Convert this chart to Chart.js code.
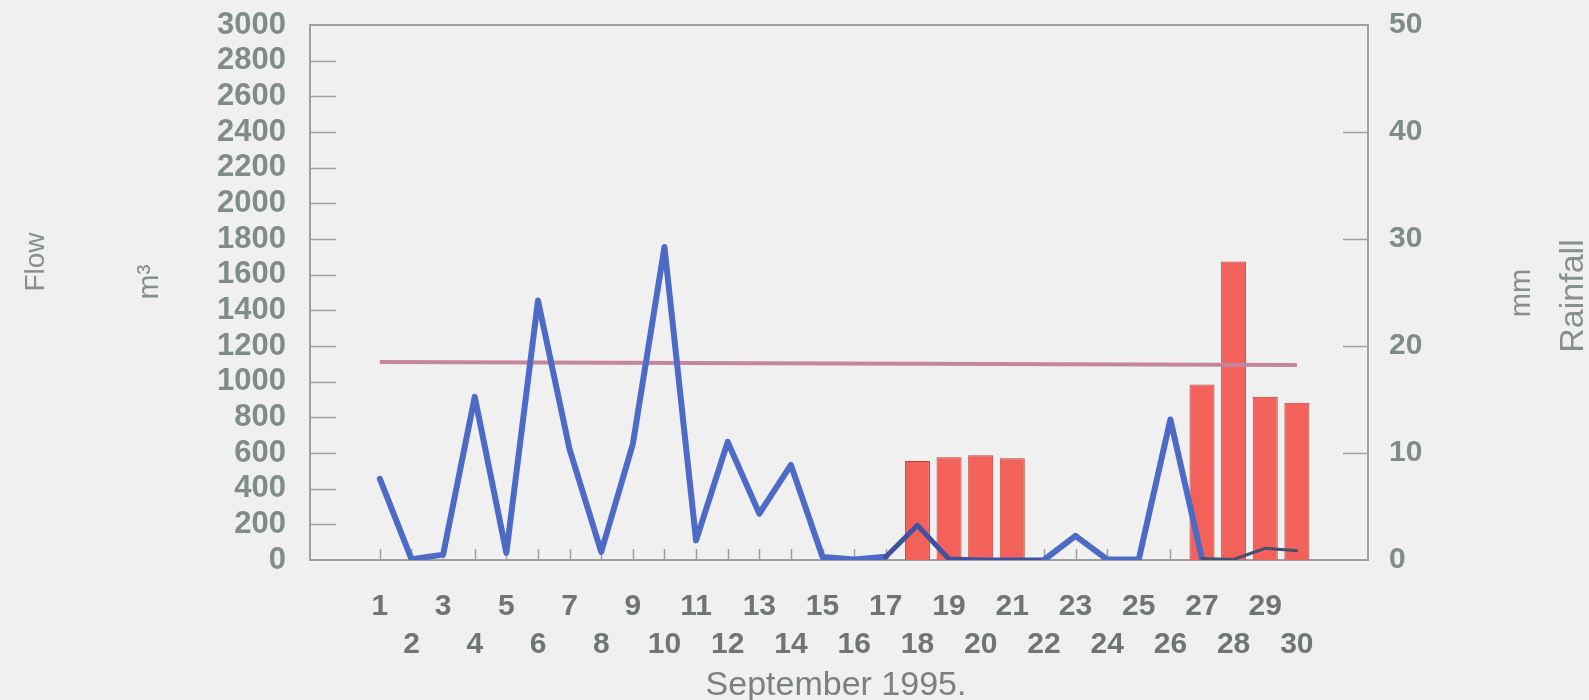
<!DOCTYPE html>
<html>
<head>
<meta charset="utf-8">
<script src="https://cdn.jsdelivr.net/npm/chart.js@4.4.1/dist/chart.umd.min.js"></script>
<style>
html,body{margin:0;padding:0;background:#eff0ef;}
#wrap{width:1589px;height:700px;position:relative;}
</style>
</head>
<body>
<div id="wrap"><canvas id="c" width="1589" height="700"></canvas></div>
<script>
// ---- data ----
const days = [1,2,3,4,5,6,7,8,9,10,11,12,13,14,15,16,17,18,19,20,21,22,23,24,25,26,27,28,29,30];
const flow = [455,5,30,915,40,1455,620,45,650,1755,110,662,260,533,17,3,18,195,5,0,0,0,135,3,3,788,8,3,66,52];
const rainfall = [0,0,0,0,0,0,0,0,0,0,0,0,0,0,0,0,0,9.25,9.6,9.8,9.5,0,0,0,0,0,16.4,27.9,15.25,14.7];
const meanDays = [1, 30];
const meanFlow = [1110, 1093];
const flowTicks = [0,200,400,600,800,1000,1200,1400,1600,1800,2000,2200,2400,2600,2800,3000];
const rainTicks = [0,10,20,30,40,50];
const xTitle = 'September 1995.';
const leftTitle = 'Flow';
const leftUnit = 'm³';
const rightUnit = 'mm';
const rightTitle = 'Rainfall';

const FONT = '"Liberation Sans", Arial, sans-serif';
const AXIS = '#9da2a1';

const flowPts = days.map((d,i)=>({x:d,y:flow[i]}));
const rainPts = days.map((d,i)=>({x:d,y:rainfall[i]}));
const meanPts = meanDays.map((d,i)=>({x:d,y:meanFlow[i]}));

const decor = {
  id:'decor',
  beforeDraw(chart){
    const c = chart.ctx;
    c.save();
    c.fillStyle = '#eff0ef';
    c.fillRect(0,0,chart.width,chart.height);
    c.restore();
  },
  beforeDatasetsDraw(chart){
    const c = chart.ctx, a = chart.chartArea;
    const sx = chart.scales.x, sy = chart.scales.y, sy2 = chart.scales.y2;
    c.save();
    c.strokeStyle = AXIS;
    c.lineWidth = 2;
    c.strokeRect(a.left, a.top, a.right-a.left, a.bottom-a.top);
    c.lineWidth = 1.5;
    c.beginPath();
    flowTicks.forEach(v=>{
      if (v===flowTicks[0] || v===flowTicks[flowTicks.length-1]) return;
      const y = Math.round(sy.getPixelForValue(v))+0.5;
      c.moveTo(a.left, y); c.lineTo(a.left+26, y);
    });
    rainTicks.forEach(v=>{
      if (v===rainTicks[0] || v===rainTicks[rainTicks.length-1]) return;
      const y = Math.round(sy2.getPixelForValue(v))+0.5;
      c.moveTo(a.right, y); c.lineTo(a.right-25, y);
    });
    days.forEach(d=>{
      const x = Math.round(sx.getPixelForValue(d))+0.5;
      c.moveTo(x, a.bottom); c.lineTo(x, a.bottom-11);
    });
    c.stroke();
    c.restore();
  },
  afterDraw(chart){
    const c = chart.ctx;
    c.save();
    c.fillStyle = '#86918b';
    c.textAlign = 'center';
    c.textBaseline = 'middle';
    const rot = (txt,x,y,size)=>{ c.save(); c.font = size + 'px ' + FONT; c.translate(x,y); c.rotate(-Math.PI/2); c.fillText(txt,0,0); c.restore(); };
    rot(leftTitle, 36, 262, 28);
    rot(leftUnit, 150, 282, 30);
    rot(rightUnit, 1522, 293, 29);
    rot(rightTitle, 1574, 296, 34);
    c.fillStyle = '#7b827e';
    c.font = '34px ' + FONT;
    c.fillText(xTitle, 836, 686);
    c.restore();
  }
};

new Chart(document.getElementById('c'), {
  data: {
    datasets: [
      {
        type:'line', label:'Mean flow', data: meanPts, yAxisID:'y',
        borderColor:'#c5859f', borderWidth:4, pointRadius:0, tension:0, order:1
      },
      {
        type:'line', label:'Flow', data: flowPts, yAxisID:'y',
        borderColor:'#4d6bc6', borderWidth:6, borderJoinStyle:'round', borderCapStyle:'round',
        pointRadius:0, tension:0, order:0,
        segment:{
          borderColor: s => s.p0.parsed.x >= 27 ? '#46506f'
                          : (s.p0.parsed.x >= 17 && s.p0.parsed.x < 22 ? '#40529e' : undefined),
          borderWidth: s => s.p0.parsed.x >= 27 ? 3
                          : (s.p0.parsed.x >= 17 && s.p0.parsed.x < 22 ? 5 : undefined)
        }
      },
      {
        type:'bar', label:'Rainfall', data: rainPts, yAxisID:'y2',
        backgroundColor: ctx => (ctx.raw && ctx.raw.y > 0) ? '#f2625b' : 'rgba(0,0,0,0)',
        borderColor:'#b4463f',
        borderWidth: ctx => (ctx.raw && ctx.raw.y > 0) ? 1 : 0,
        inflateAmount:0,
        borderSkipped:'bottom', barThickness:25, order:2
      }
    ]
  },
  options: {
    responsive:false, animation:false, devicePixelRatio:1,
    layout:{ padding:{ top:25, left:0, right:0, bottom:0 } },
    plugins:{ legend:{display:false}, tooltip:{enabled:false} },
    scales:{
      x:{
        type:'linear', min:-1.21, max:32.25, offset:false,
        grid:{display:false, drawTicks:false, offset:false}, border:{display:false},
        afterBuildTicks: s => { s.ticks = days.map(v=>({value:v})); },
        afterFit: s => { s.height = 140; s.paddingLeft = 0; s.paddingRight = 0; },
        ticks:{
          autoSkip:false, maxRotation:0, padding:28,
          color:'#6f7672', font:{family:FONT, size:30, weight:'bold', lineHeight:1.27},
          callback: v => (v % 2 === 0) ? ['', String(v)] : String(v)
        }
      },
      y:{
        type:'linear', position:'left', min:0, max:3000,
        grid:{display:false, drawTicks:false}, border:{display:false},
        afterBuildTicks: s => { s.ticks = flowTicks.map(v=>({value:v})); },
        afterFit: s => { s.width = 310; s.paddingTop = 0; s.paddingBottom = 0; },
        ticks:{ autoSkip:false, padding:24, color:'#808c86',
          font:{family:FONT, size:31, weight:'bold', lineHeight:1.1},
          callback: v => String(v) }
      },
      y2:{
        type:'linear', position:'right', min:0, max:50,
        grid:{display:false, drawTicks:false}, border:{display:false},
        afterBuildTicks: s => { s.ticks = rainTicks.map(v=>({value:v})); },
        afterFit: s => { s.width = 221; s.paddingTop = 0; s.paddingBottom = 0; },
        ticks:{ autoSkip:false, padding:21, color:'#808c86',
          font:{family:FONT, size:30, weight:'bold', lineHeight:1.1},
          callback: v => String(v) }
      }
    }
  },
  plugins:[decor]
});
</script>
</body>
</html>
